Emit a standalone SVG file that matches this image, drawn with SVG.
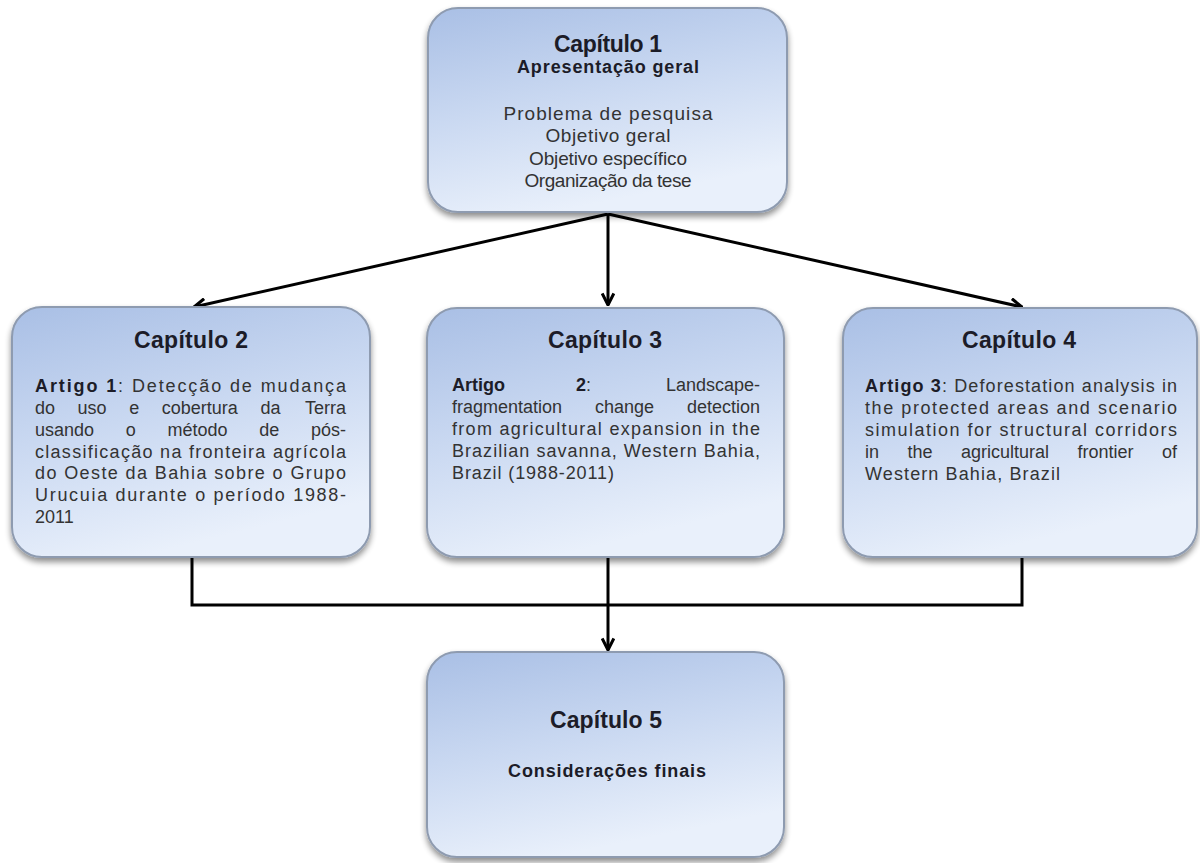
<svg xmlns="http://www.w3.org/2000/svg" width="1200" height="863" viewBox="0 0 1200 863">
<defs>
  <linearGradient id="boxg" x1="0" y1="0" x2="0.35" y2="1">
    <stop offset="0" stop-color="#a9bfe5"/>
    <stop offset="0.5" stop-color="#c9d8f1"/>
    <stop offset="1" stop-color="#e9f0fb"/>
  </linearGradient>
  <filter id="sh" x="-10%" y="-10%" width="120%" height="125%">
    <feGaussianBlur in="SourceAlpha" stdDeviation="3"/>
    <feOffset dx="0" dy="4" result="b"/>
    <feComponentTransfer><feFuncA type="linear" slope="0.45"/></feComponentTransfer>
    <feMerge><feMergeNode/><feMergeNode in="SourceGraphic"/></feMerge>
  </filter>
  <marker id="arr" viewBox="0 0 12 12" markerWidth="14" markerHeight="14" refX="11" refY="6" orient="auto" markerUnits="userSpaceOnUse">
    <path d="M1,1 L11,6 L1,11" fill="none" stroke="#000" stroke-width="2.6" stroke-linejoin="miter"/>
  </marker>
  <style>
    .box { fill: url(#boxg); stroke: #8e9bb0; stroke-width: 2; filter: url(#sh); }
    .t { font-family: "Liberation Sans", Arial, sans-serif; font-weight: bold; font-size: 23px; fill: #1c1c28; text-anchor: middle; }
    .st { font-family: "Liberation Sans", Arial, sans-serif; font-weight: bold; font-size: 18px; fill: #1c1c28; text-anchor: middle; }
    .b { font-family: "Liberation Sans", Arial, sans-serif; font-size: 18px; fill: #333333; }
    .e { text-anchor: end; }
    .bc { font-family: "Liberation Sans", Arial, sans-serif; font-size: 19px; fill: #333333; text-anchor: middle; }
    .bold { font-weight: bold; fill: #1c1c28; }
    .con { fill: none; stroke: #000; stroke-width: 3; }
  </style>
</defs>
<rect width="1200" height="863" fill="#ffffff"/>

<g id="connectors">
  <path class="con" d="M608,214 L194,307" marker-end="url(#arr)"/>
  <path class="con" d="M608,214 L608,305" marker-end="url(#arr)"/>
  <path class="con" d="M608,214 L1022,307" marker-end="url(#arr)"/>
  <path class="con" d="M192,557 V605 H1022 V557"/>
  <path class="con" d="M608,557 V650" marker-end="url(#arr)"/>
</g>

<g id="cap1">
  <rect class="box" x="428" y="8" width="359" height="204" rx="30"/>
  <text class="t" x="608" y="52" textLength="108">Capítulo 1</text>
  <text class="st" x="608" y="73" textLength="182">Apresentação geral</text>
  <text class="bc" x="608" y="120" textLength="209">Problema de pesquisa</text>
  <text class="bc" x="608" y="142" textLength="125">Objetivo geral</text>
  <text class="bc" x="608" y="164.5" textLength="158">Objetivo específico</text>
  <text class="bc" x="608" y="187" textLength="167">Organização da tese</text>
</g>

<g id="cap2">
  <rect class="box" x="12" y="307" width="358" height="250" rx="30"/>
  <text class="t" x="191" y="348" textLength="114">Capítulo 2</text>
  <text class="b" x="35" y="392" textLength="311" lengthAdjust="spacing"><tspan class="bold">Artigo 1</tspan>: Detecção de mudança</text>
  <g class="b">
    <text x="35" y="414">do</text>
    <text x="77.6" y="414">uso</text>
    <text x="129.2" y="414">e</text>
    <text x="161.8" y="414">cobertura</text>
    <text x="260.4" y="414">da</text>
    <text class="e" x="346" y="414">Terra</text>
    <text x="35" y="436">usando</text>
    <text x="125.7" y="436">o</text>
    <text x="167.5" y="436">método</text>
    <text x="259.2" y="436">de</text>
    <text class="e" x="346" y="436">pós-</text>
  </g>
  <text class="b" x="35" y="457.5" textLength="311" lengthAdjust="spacing">classificação na fronteira agrícola</text>
  <text class="b" x="35" y="479" textLength="311" lengthAdjust="spacing">do Oeste da Bahia sobre o Grupo</text>
  <text class="b" x="35" y="501" textLength="311" lengthAdjust="spacing">Urucuia durante o período 1988-</text>
  <text class="b" x="35" y="523">2011</text>
</g>

<g id="cap3">
  <rect class="box" x="427" y="308" width="357" height="249" rx="30"/>
  <text class="t" x="605" y="348" textLength="114">Capítulo 3</text>
  <g class="b">
    <text class="bold" x="452" y="391">Artigo</text>
    <text x="576" y="391"><tspan class="bold">2</tspan>:</text>
    <text class="e" x="760" y="391">Landscape-</text>
    <text x="452" y="413">fragmentation</text>
    <text x="595" y="413">change</text>
    <text class="e" x="760" y="413">detection</text>
  </g>
  <text class="b" x="452" y="435" textLength="308" lengthAdjust="spacing">from agricultural expansion in the</text>
  <text class="b" x="452" y="457" textLength="308" lengthAdjust="spacing">Brazilian savanna, Western Bahia,</text>
  <text class="b" x="452" y="479" textLength="162" lengthAdjust="spacing">Brazil (1988-2011)</text>
</g>

<g id="cap4">
  <rect class="box" x="843" y="308" width="354" height="249" rx="30"/>
  <text class="t" x="1019" y="348" textLength="114">Capítulo 4</text>
  <text class="b" x="865" y="392" textLength="312" lengthAdjust="spacing"><tspan class="bold">Artigo 3</tspan>: Deforestation analysis in</text>
  <text class="b" x="865" y="414" textLength="312" lengthAdjust="spacing">the protected areas and scenario</text>
  <text class="b" x="865" y="436" textLength="312" lengthAdjust="spacing">simulation for structural corridors</text>
  <g class="b">
    <text x="865" y="458">in</text>
    <text x="907.5" y="458">the</text>
    <text x="961" y="458">agricultural</text>
    <text x="1077.5" y="458">frontier</text>
    <text class="e" x="1177" y="458">of</text>
  </g>
  <text class="b" x="865" y="480" textLength="195" lengthAdjust="spacing">Western Bahia, Brazil</text>
</g>

<g id="cap5">
  <rect class="box" x="427" y="652" width="357" height="205" rx="30"/>
  <text class="t" x="606" y="728" textLength="112">Capítulo 5</text>
  <text class="st" x="607" y="777" font-size="19" textLength="198">Considerações finais</text>
</g>
</svg>
